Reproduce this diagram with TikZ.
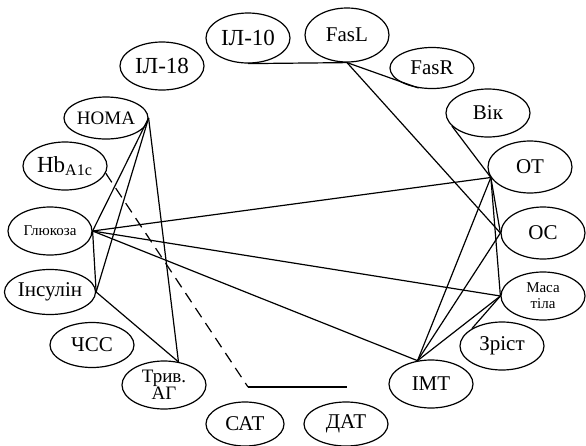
\documentclass[tikz,border=0pt]{standalone}
\usepackage{fontspec}
\setmainfont{Liberation Serif}
\usetikzlibrary{shapes.geometric}

\begin{document}
\begin{tikzpicture}[x=0.5pt, y=-0.5pt,
  factor/.style={ellipse, draw, line width=0.6pt, minimum width=42pt,
    minimum height=24pt, inner sep=0pt, font=\fontsize{10.5}{11}\selectfont},
  smalltext/.style={font=\fontsize{7.5}{8}\selectfont},
  bigtext/.style={font=\fontsize{11.5}{12}\selectfont},
  link/.style={line width=0.6pt}]
  \useasboundingbox (0,0) rectangle (586,446);

  % Factors around the circle
  \node[factor, bigtext, minimum height=25pt] (IL10) at (248,38) {ІЛ-10};
  \node[factor, bigtext] (IL18) at (162,66) {ІЛ-18};
  \node[factor, minimum height=21pt, font=\fontsize{9.5}{10}\selectfont] (HOMA) at (106,118) {HOMA};
  \node[factor, bigtext] (Hb) at (65,166) {Hb\textsubscript{A1c}};
  \node[factor, smalltext] (Glu) at (50,231) {Глюкоза};
  \node[factor, minimum height=22.5pt] (Ins) at (50,292) {Інсулін};
  \node[factor, minimum height=22.5pt] (HR) at (92,345) {ЧСС};
  \node[factor, align=center, font=\fontsize{9.5}{8.5}\selectfont] (Triv) at (164,385) {Трив.\\АГ};
  \node[factor, minimum width=39pt, minimum height=22pt] (SAT) at (245,424) {САТ};
  \node[factor, minimum height=22pt] (DAT) at (346,424) {ДАТ};
  \node[factor] (IMT) at (431,384) {ІМТ};
  \node[factor] (Zrist) at (502,346) {Зріст};
  \node[factor, smalltext, align=center] (Mass) at (543,296) {Маса\\тіла};
  \node[factor, minimum height=26pt] (OC) at (543,233) {ОС};
  \node[factor, minimum height=26pt] (OT) at (530,167) {ОТ};
  \node[factor] (Vik) at (488,113) {Вік};
  \node[factor, minimum height=20.5pt] (FasR) at (432,68) {FasR};
  \node[factor, minimum height=27pt] (FasL) at (347,35) {FasL};

  % Cytokines
  \draw[link] (IL10.south) -- (FasL.south);
  \draw[link] (FasL.south) -- (FasR.236);
  \draw[link] (FasL.south) -- (OC.west);

  % Anthropometry
  \draw[link] (Vik.200) -- (OT.195);
  \draw[link] (OT.195) -- (OC.west);
  \draw[link] (OT.195) -- (Mass.west);
  \draw[link] (OT.195) -- (IMT.120);
  \draw[link] (OC.west) -- (IMT.120);
  \draw[link] (Mass.west) -- (IMT.120);
  \draw[link] (Mass.west) -- (Zrist.150);

  % Glucose and insulin
  \draw[link] (Glu.east) -- (OT.195);
  \draw[link] (Glu.east) -- (Mass.west);
  \draw[link] (Glu.east) -- (IMT.120);
  \draw[link] (Glu.east) -- (Ins.east);
  \draw[link] (HOMA.east) -- (Glu.east);
  \draw[link] (HOMA.east) -- (Ins.east);
  \draw[link] (HOMA.east) -- (Triv.58);
  \draw[link] (Ins.east) -- (Triv.58);

  % HbA1c
  \coordinate (bend) at (248,387);
  \coordinate (tail) at (347,387);
  \draw[link, dash pattern=on 5.5pt off 3.5pt] (Hb.350) -- (bend);
  \draw[link] (bend) -- (tail);
\end{tikzpicture}
\end{document}
